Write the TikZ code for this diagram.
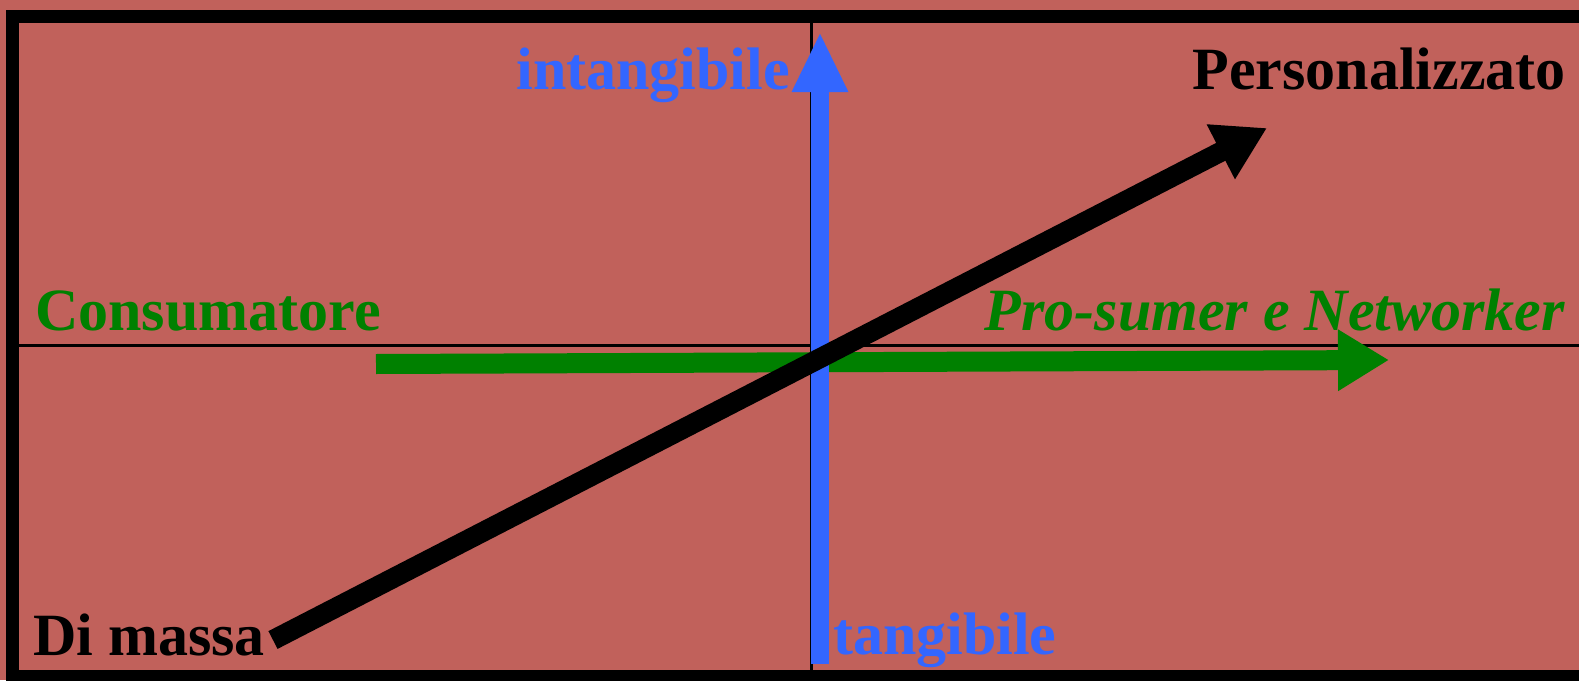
\documentclass[tikz,border=0pt]{standalone}
\usepackage{fontspec}
\setmainfont{Liberation Serif}
\usetikzlibrary{arrows.meta}
\definecolor{bgsalmon}{RGB}{193,97,91}
\definecolor{axisblue}{RGB}{51,102,255}
\definecolor{axisgreen}{RGB}{0,128,0}
\tikzset{
  lbl/.style={inner sep=0pt, font=\fontsize{60}{72}\selectfont\bfseries},
  thinline/.style={draw=black, line width=3.5pt},
  framebox/.style={draw=black, line width=13pt},
  bluearrow/.style={draw=axisblue, line width=17.5pt, -{Triangle[length=60pt,width=52pt]}},
  greenarrow/.style={draw=axisgreen, line width=20pt, -{Triangle[length=51pt,width=58pt]}},
  blackarrow/.style={draw=black, line width=20pt, -{Triangle[length=52pt,width=58pt]}},
}
\begin{document}
\begin{tikzpicture}[x=1pt,y=-1pt]
\useasboundingbox (0,0) rectangle (1579,680);
\clip (0,0) rectangle (1579,680);
\fill[bgsalmon] (0,0) rectangle (1579,680);
% quadrant lines
\coordinate (vt) at (811.5,16);
\coordinate (vb) at (811.5,676);
\coordinate (hl) at (12.5,345.5);
\coordinate (hr) at (1590,345.5);
\draw[thinline] (vt) -- (vb);
\draw[thinline] (hl) -- (hr);
% frame
\draw[framebox] (12.5,16) rectangle (1590,676);
% arrows
\coordinate (gs) at (376,364);
\coordinate (ge) at (1389,360);
\draw[greenarrow] (gs) -- (ge);
\coordinate (bs) at (820,664);
\coordinate (be) at (820,32);
\draw[bluearrow] (bs) -- (be);
\coordinate (ks) at (273,640);
\coordinate (ke) at (1267,128);
\draw[blackarrow] (ks) -- (ke);
% labels
\node[lbl, text=axisblue, anchor=base east] (intang) at (790,89) {intangibile};
\node[lbl, text=black, anchor=base east] (pers) at (1566,89) {Personalizzato};
\node[lbl, text=axisgreen, anchor=base west] (cons) at (35,330) {Consumatore};
\node[lbl, text=axisgreen, anchor=base east, font=\fontsize{60}{72}\selectfont\bfseries\itshape] (pros) at (1565,330) {Pro-sumer e Networker};
\node[lbl, text=black, anchor=base west] (dim) at (33,655) {Di massa};
\node[lbl, text=axisblue, anchor=base west] (tang) at (833,654) {tangibile};
\end{tikzpicture}
\end{document}
